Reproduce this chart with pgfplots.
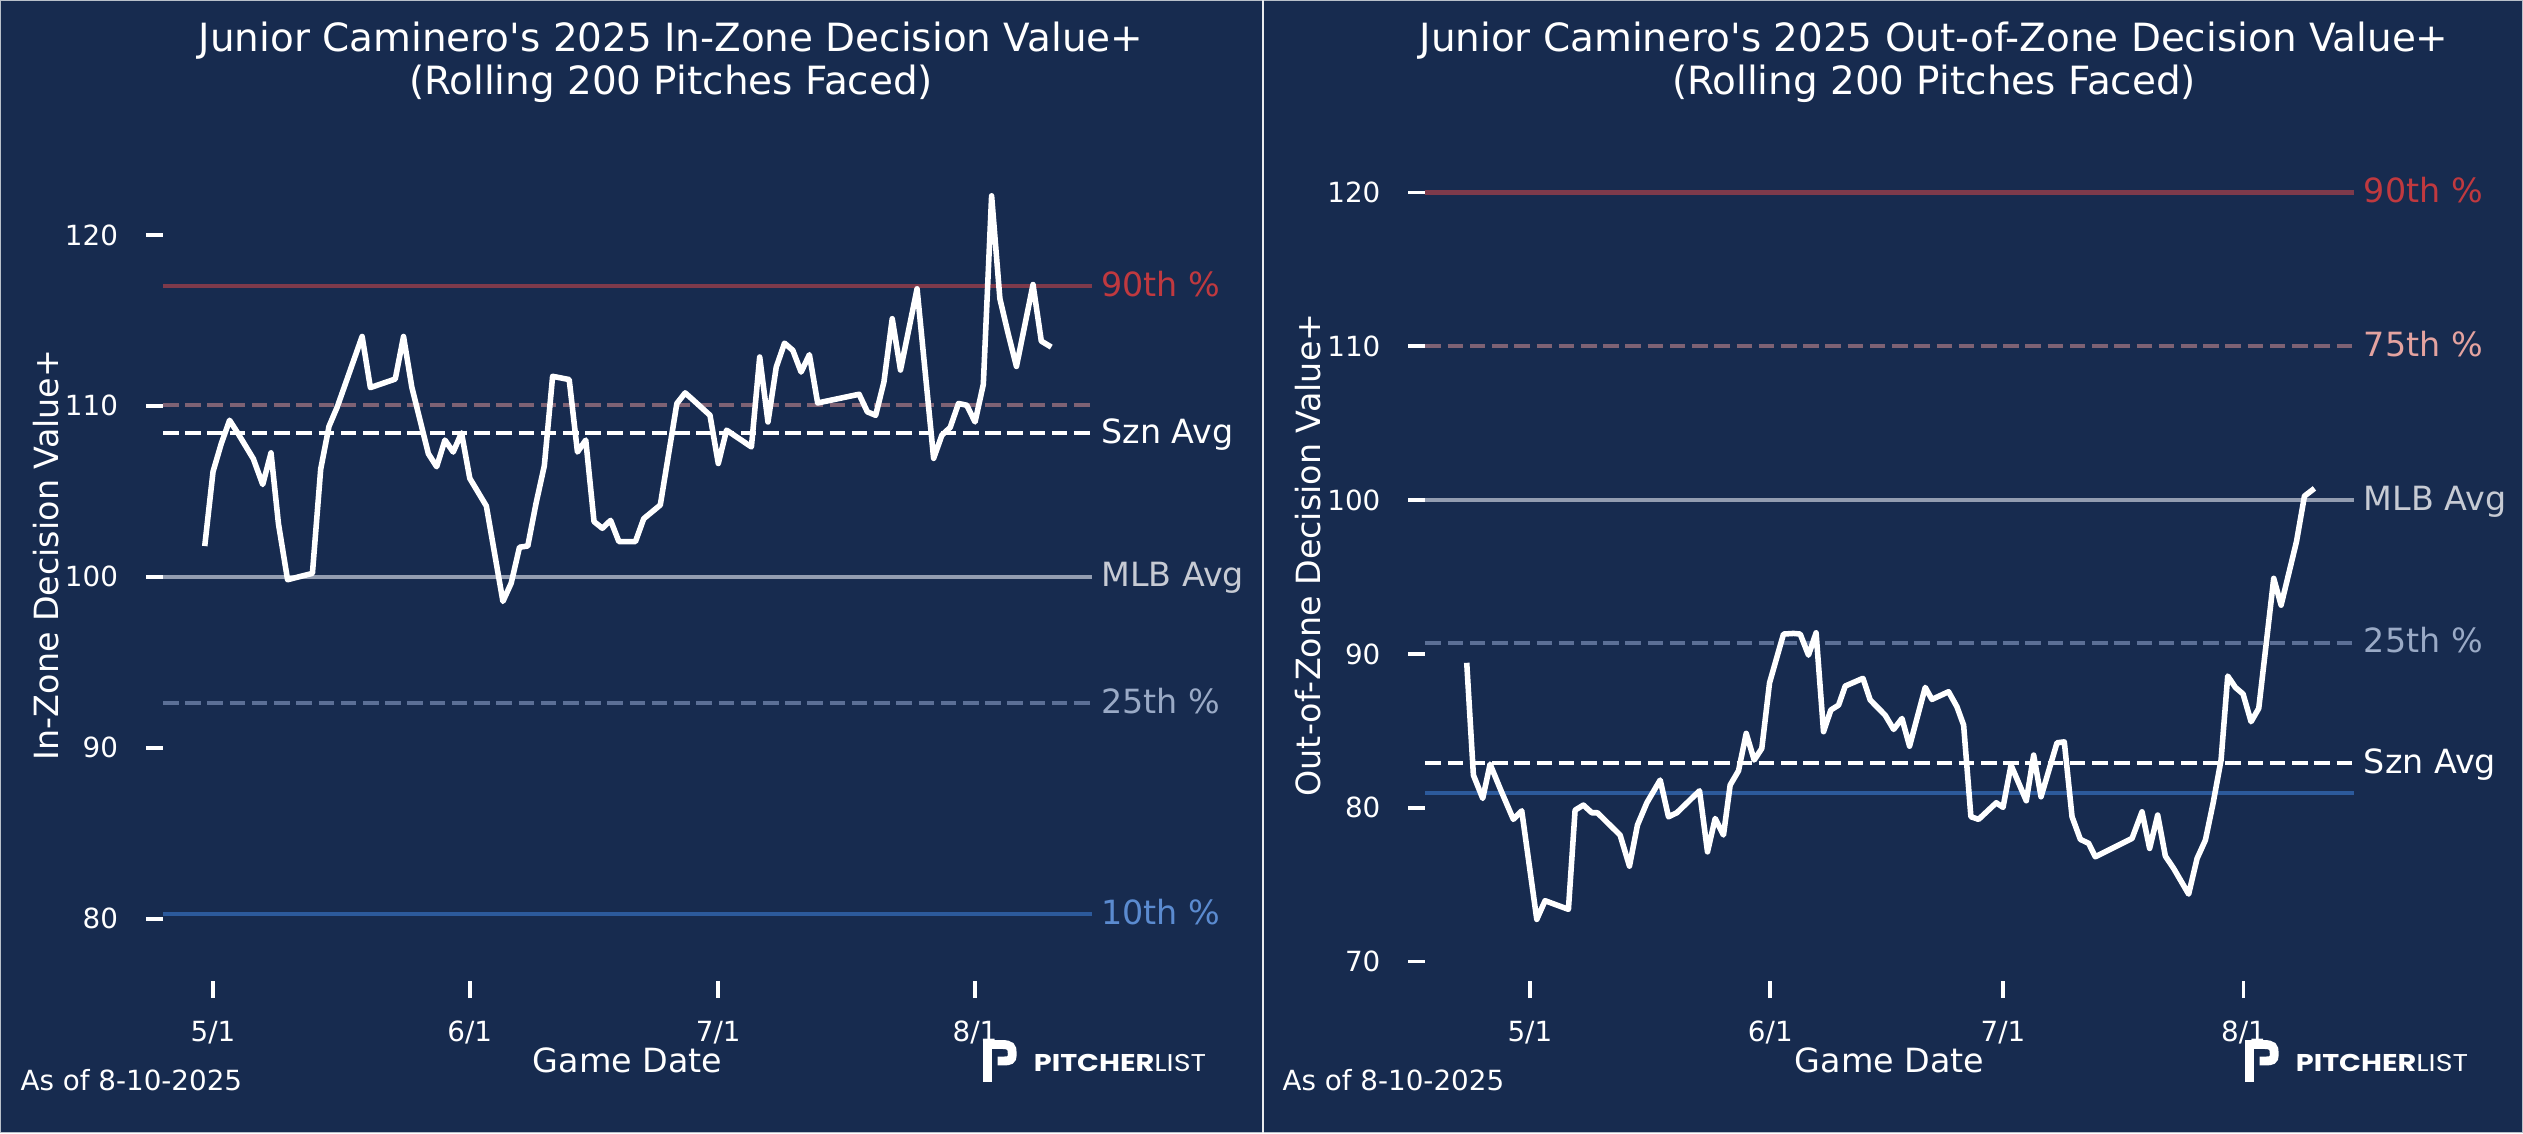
\documentclass[border=0pt]{standalone}
\usepackage{fontspec}
\setmainfont{DejaVu Sans}
\newfontfamily\pop{Poppins}
\usepackage{pgfplots}
\pgfplotsset{compat=1.18}
\definecolor{bg}{RGB}{23,43,79}
\definecolor{l90}{RGB}{126,58,75}
\definecolor{t90}{RGB}{192,57,63}
\definecolor{l75}{RGB}{126,98,116}
\definecolor{t75}{RGB}{228,163,160}
\definecolor{lmlb}{RGB}{147,157,177}
\definecolor{tmlb}{RGB}{199,203,212}
\definecolor{l25}{RGB}{91,111,150}
\definecolor{t25}{RGB}{154,170,198}
\definecolor{l10}{RGB}{44,90,156}
\definecolor{t10}{RGB}{91,139,208}
\tikzset{
  refl/.style={line width=1.5pt},
  refd/.style={line width=1.5pt, dash pattern=on 5.6pt off 2.4pt},
  dat/.style={white, line width=2pt, line join=round},
  lab/.style={anchor=base west, inner sep=0pt, xshift=3.2pt, yshift=-3.6pt, font=\fontsize{12}{14}\selectfont},
}
\pgfplotsset{dvstyle/.style={
  scale only axis, width=334.44pt, height=306.72pt,
  anchor=south west,
  axis line style={draw=none},
  tick align=outside,
  xtick pos=left, ytick pos=left,
  major tick length=6.2pt,
  tick style={white, line width=1.4pt},
  xtick={0,31,61,92}, xticklabels={5/1,6/1,7/1,8/1},
  ticklabel style={text=white, font=\fontsize{10}{12}\selectfont},
  xticklabel style={anchor=base, inner sep=0pt, yshift=-15.6pt},
  yticklabel style={anchor=east, inner sep=0pt, xshift=-9.8pt},
  /pgf/number format/assume math mode=true,
  clip=false,
}}
\begin{document}
\begin{tikzpicture}
\fill[bg] (0,0) rectangle (908.28pt,407.88pt);
% ---------------- left panel ----------------
\begin{axis}[dvstyle, at={(58.68pt,54.72pt)},
  xmin=-6.04, xmax=106.12, ymin=76.35, ymax=126.2,
  ytick={80,90,100,110,120}]
\addplot[refl, l90] coordinates {(-6.04,117.0) (106.12,117.0)};
\addplot[refd, l75] coordinates {(-6.04,110.05) (106.12,110.05)};
\addplot[refl, lmlb] coordinates {(-6.04,100) (106.12,100)};
\addplot[refd, l25] coordinates {(-6.04,92.6) (106.12,92.6)};
\addplot[refl, l10] coordinates {(-6.04,80.25) (106.12,80.25)};
\addplot[refd, white] coordinates {(-6.04,108.4) (106.12,108.4)};
\addplot[dat] coordinates {
(-1,101.8) (0,106.15) (1,107.8) (2,109.16) (3,108.4) (4.87,106.9) (6,105.4) (7,107.25)
(7.9,103.1) (9,99.83) (12,100.2) (13,106.3) (14,108.8) (15,109.94) (18,114.06) (19,111.07)
(22,111.57) (23,114.06) (24,111.1) (26,107.2) (27,106.44) (28,108.0) (29,107.3) (30,108.42)
(31,105.76) (33,104.14) (35,98.56) (36,99.63) (37,101.73) (38,101.8) (39,104.3) (40,106.5)
(41,111.73) (43,111.54) (44,107.3) (45,108.0) (46,103.23) (47,102.84) (48,103.3) (49,102.06)
(51,102.06) (52,103.4) (54,104.2) (56,110.14) (57,110.76) (58,110.33) (60,109.45) (61,106.63)
(62,108.58) (65,107.6) (66,112.86) (67,109.06) (68,112.27) (69,113.67) (70,113.25) (71,111.98)
(72,113.0) (73,110.17) (78,110.68) (79,109.65) (80,109.45) (81,111.4) (82,115.1) (83,112.1)
(85,116.85) (87,106.93) (88,108.29) (89,108.74) (90,110.14) (91,110.04) (92,109.06) (93,111.26)
(94,122.29) (95,116.27) (96,114.22) (97,112.31) (99,117.1) (100,113.79) (101.2,113.44)};
\node[lab, text=t90] at (axis cs:106.12,117.0) {90th \%};
\node[lab, text=white] at (axis cs:106.12,108.4) {Szn Avg};
\node[lab, text=tmlb] at (axis cs:106.12,100) {MLB Avg};
\node[lab, text=t25] at (axis cs:106.12,92.6) {25th \%};
\node[lab, text=t10] at (axis cs:106.12,80.25) {10th \%};
\end{axis}
% ---------------- right panel ----------------
\begin{axis}[dvstyle, at={(513.14pt,54.72pt)},
  xmin=-13.47, xmax=106.3, ymin=68.73, ymax=124.13,
  ytick={70,80,90,100,110,120}]
\addplot[refl, l90] coordinates {(-13.47,120) (106.3,120)};
\addplot[refd, l75] coordinates {(-13.47,110) (106.3,110)};
\addplot[refl, lmlb] coordinates {(-13.47,100) (106.3,100)};
\addplot[refd, l25] coordinates {(-13.47,90.72) (106.3,90.72)};
\addplot[refl, l10] coordinates {(-13.47,80.93) (106.3,80.93)};
\addplot[refd, white] coordinates {(-13.47,82.88) (106.3,82.88)};
\addplot[dat] coordinates {
(-8.14,89.42) (-7.28,82.12) (-6.08,80.6) (-5.13,82.83) (-3.84,81.25) (-2.13,79.24) (-1.05,79.8)
(0.89,72.74) (1.96,73.95) (4.97,73.39) (5.83,79.84) (6.9,80.17) (7.98,79.67) (8.7,79.67)
(11.63,78.22) (12.84,76.2) (13.87,78.87) (15.08,80.32) (16.8,81.8) (17.87,79.41) (18.95,79.67)
(21.87,81.1) (22.9,77.13) (23.89,79.3) (24.96,78.22) (25.82,81.47) (26.9,82.4) (27.89,84.83)
(28.92,83.1) (29.9,83.85) (30.9,88.12) (32.7,91.29) (33.99,91.33) (34.85,91.29) (35.92,89.92)
(36.9,91.37) (37.86,84.94) (38.8,86.35) (39.8,86.67) (40.66,87.91) (42.94,88.41) (43.88,87.0)
(45.8,86.02) (46.9,85.09) (47.97,85.8) (48.95,84.0) (50.97,87.82) (51.84,87.04) (53.98,87.54)
(55.06,86.56) (55.92,85.37) (56.86,79.41) (57.85,79.24) (60.13,80.32) (61.0,80.02) (62.03,82.77)
(64.0,80.45) (64.95,83.42) (65.9,80.71) (67.96,84.22) (68.9,84.28) (69.9,79.41) (70.97,77.94)
(72.04,77.68) (72.9,76.81) (77.63,78.0) (78.92,79.73) (79.9,77.35) (80.94,79.52) (81.93,76.85)
(83.0,76.05) (84.93,74.38) (86.02,76.7) (87.09,77.89) (88.08,80.28) (89.11,83.1) (89.97,88.56)
(90.96,87.82) (91.95,87.39) (92.98,85.59) (93.97,86.46) (95.9,94.91) (96.85,93.17) (98.83,97.29)
(99.86,100.26) (101.15,100.76)};
\node[lab, text=t90] at (axis cs:106.3,120) {90th \%};
\node[lab, text=t75] at (axis cs:106.3,110) {75th \%};
\node[lab, text=tmlb] at (axis cs:106.3,100) {MLB Avg};
\node[lab, text=t25] at (axis cs:106.3,90.72) {25th \%};
\node[lab, text=white] at (axis cs:106.3,82.88) {Szn Avg};
\end{axis}
% ---------------- texts ----------------
\begin{scope}[every node/.style={text=white, inner sep=0pt}]
\node[anchor=base, font=\fontsize{14}{16}\selectfont] at (241.56pt,389.41pt) {Junior Caminero\textquotesingle s 2025 In-Zone Decision Value+};
\node[anchor=base, font=\fontsize{14}{16}\selectfont] at (241.56pt,373.9pt) {(Rolling 200 Pitches Faced)};
\node[anchor=base, font=\fontsize{14}{16}\selectfont] at (696.24pt,389.41pt) {Junior Caminero\textquotesingle s 2025 Out-of-Zone Decision Value+};
\node[anchor=base, font=\fontsize{14}{16}\selectfont] at (696.24pt,373.9pt) {(Rolling 200 Pitches Faced)};
\node[rotate=90, anchor=center, font=\fontsize{12}{14}\selectfont] at (16.56pt,208.08pt) {In-Zone Decision Value+};
\node[rotate=90, anchor=center, font=\fontsize{12}{14}\selectfont] at (470.88pt,208.08pt) {Out-of-Zone Decision Value+};
\node[anchor=base, font=\fontsize{12}{14}\selectfont] at (225.9pt,21.96pt) {Game Date};
\node[anchor=base, font=\fontsize{12}{14}\selectfont] at (680.3pt,21.96pt) {Game Date};
\node[anchor=base west, font=\fontsize{10}{12}\selectfont] at (7.2pt,15.48pt) {As of 8-10-2025};
\node[anchor=base west, font=\fontsize{10}{12}\selectfont] at (461.52pt,15.48pt) {As of 8-10-2025};
\node[anchor=base west] at (372pt,22.32pt) {\resizebox{62pt}{6.2pt}{\pop\textbf{PITCHER}LIST}};
\node[anchor=base west] at (826.32pt,22.32pt) {\resizebox{62pt}{6.2pt}{\pop\textbf{PITCHER}LIST}};
\end{scope}
\foreach \ox in {353.41pt,807.73pt}{
\begin{scope}[shift={(\ox,33.48pt)}, x=0.36pt, y=-0.36pt]
 \fill[white] (1.5,8) rectangle (10.5,42);
 \draw[white, line width=3.2pt] (1.5,4.5) -- (20,4.5) .. controls (29,4.5) and (30.5,7) .. (30.5,13) -- (30.5,15) .. controls (30.5,20) and (28,21) .. (22,21) -- (16,21);
\end{scope}}
% borders
\draw[line width=0.5pt, white!70!bg] (0.25pt,0.25pt) rectangle (908.03pt,407.63pt);
\draw[line width=0.8pt, white!90!bg] (454.57pt,0pt) -- (454.57pt,407.88pt);
\pgfresetboundingbox
\useasboundingbox (0,0) rectangle (908.28pt,407.88pt);
\end{tikzpicture}
\end{document}
